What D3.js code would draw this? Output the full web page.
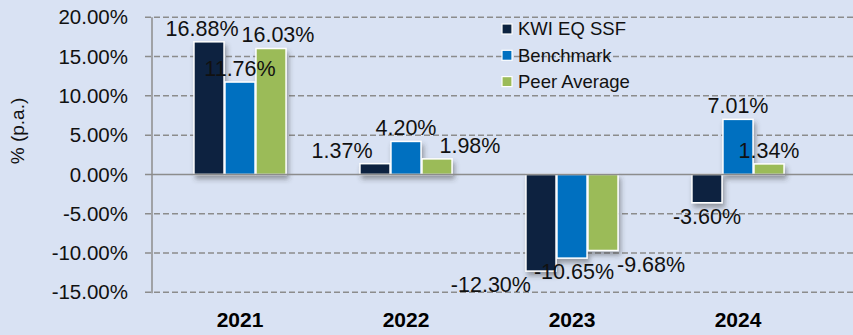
<!DOCTYPE html>
<html>
<head>
<meta charset="utf-8">
<script src="https://cdn.jsdelivr.net/npm/d3@7"></script>
<style>
  html, body { margin: 0; padding: 0; background: #D9E2F3; }
  svg { display: block; font-family: "Liberation Sans", Arial, sans-serif; }
</style>
</head>
<body>
<svg id="chart" width="853" height="335"></svg>
<script>
// Annual returns (% p.a.)
const years = ["2021", "2022", "2023", "2024"];
const seriesNames = ["KWI EQ SSF", "Benchmark", "Peer Average"];
const kwiEqSsf    = [16.88, 1.37, -12.30, -3.60];
const benchmark   = [11.76, 4.20, -10.65, 7.01];
const peerAverage = [16.03, 1.98, -9.68, 1.34];
const yTicks = [20, 15, 10, 5, 0, -5, -10, -15];

const seriesValues = [kwiEqSsf, benchmark, peerAverage];
const colors = ["#0C2340", "#0070C0", "#9BBB59"];

// percent format with a plain hyphen for negatives
const locale = d3.formatLocale({ decimal: ".", thousands: ",", grouping: [3], currency: ["", ""], minus: "-" });
const pct = v => locale.format(".2f")(v) + "%";

const svg = d3.select("#chart");
const W = 853, H = 335;
svg.append("rect").attr("width", W).attr("height", H).attr("fill", "#D9E2F3");

const axisX = 152;
const y = d3.scaleLinear().domain([-15, 20]).range([292.3, 17.3]);
const x0 = d3.scaleBand().domain(years).range([157, 821])
  .paddingInner(0.434).paddingOuter(0.217);
const x1 = d3.scaleBand().domain(seriesNames).range([0, x0.bandwidth()]).padding(0.03);

// soft shadow under the bars
const defs = svg.append("defs");
const f = defs.append("filter").attr("id", "shadow")
  .attr("x", "-30%").attr("y", "-30%").attr("width", "160%").attr("height", "160%");
f.append("feDropShadow").attr("dx", 2).attr("dy", 4).attr("stdDeviation", 2.5)
  .attr("flood-color", "#3a3a3a").attr("flood-opacity", 0.45);

// gridlines
const grid = svg.append("g");
grid.selectAll("line").data(yTicks.filter(d => d !== 0)).join("line")
  .attr("x1", axisX - 7).attr("x2", W)
  .attr("y1", d => y(d)).attr("y2", d => y(d))
  .attr("stroke", "#8C8C8C").attr("stroke-width", 1.5)
  .attr("stroke-dasharray", "6,3");

// y axis with tick labels
const yAxis = d3.axisLeft(y).tickValues(yTicks)
  .tickFormat(pct).tickSize(0).tickPadding(24);
const ya = svg.append("g").attr("transform", `translate(${axisX},0)`).call(yAxis);
ya.select(".domain").remove();
ya.selectAll("text").attr("font-size", 20.5).attr("fill", "#111")
  .attr("font-family", '"Liberation Sans", Arial, sans-serif');
svg.append("line").attr("x1", axisX).attr("x2", axisX)
  .attr("y1", y(20)).attr("y2", y(-15) + 1)
  .attr("stroke", "#8C8C8C").attr("stroke-width", 1.5);

// y axis title
svg.append("text")
  .attr("transform", "translate(24,131) rotate(-90)")
  .attr("text-anchor", "middle").attr("font-size", 19).attr("fill", "#111")
  .text("% (p.a.)");

// bars
const barData = [];
years.forEach((yr, i) => {
  seriesNames.forEach((s, j) => {
    barData.push({ year: yr, series: s, value: seriesValues[j][i], color: colors[j] });
  });
});

svg.append("g").attr("filter", "url(#shadow)")
  .selectAll("rect").data(barData).join("rect")
  .attr("x", d => x0(d.year) + x1(d.series))
  .attr("width", x1.bandwidth())
  .attr("y", d => y(Math.max(0, d.value)))
  .attr("height", d => Math.abs(y(d.value) - y(0)))
  .attr("fill", d => d.color)
  .attr("stroke", "#fff").attr("stroke-width", 1.5);

// zero line
svg.append("line").attr("x1", axisX - 7).attr("x2", W)
  .attr("y1", y(0)).attr("y2", y(0))
  .attr("stroke", "#8C8C8C").attr("stroke-width", 1.5);

// x category labels
const xa = svg.append("g").attr("transform", `translate(0,${y(-15)})`)
  .call(d3.axisBottom(x0).tickSize(0).tickPadding(20));
xa.select(".domain").remove();
xa.selectAll("text").attr("font-size", 21).attr("font-weight", "bold").attr("fill", "#000")
  .attr("font-family", '"Liberation Sans", Arial, sans-serif');

// data labels, nudged sideways where neighbours collide
const fs = 21.5;
const labelG = svg.append("g");
const labels = barData.map(d => {
  const cx = x0(d.year) + x1(d.series) + x1.bandwidth() / 2;
  const by = d.value >= 0 ? y(d.value) - 6 : y(d.value) + 21;
  const t = labelG.append("text").attr("font-size", fs).attr("fill", "#111")
    .attr("text-anchor", "middle").text(pct(d.value));
  return { node: t, year: d.year, x: cx, y: by, w: t.node().getComputedTextLength() };
});
years.forEach(yr => {
  const grp = labels.filter(l => l.year === yr);
  for (let it = 0; it < 80; it++) {
    for (let a = 0; a < grp.length; a++) {
      for (let b = a + 1; b < grp.length; b++) {
        const A = grp[a], B = grp[b];
        if (Math.abs(A.y - B.y) >= fs * 1.2) continue;
        const need = (A.w + B.w) / 2 + 3;
        const gap = B.x - A.x;
        if (gap < need) {
          const push = (need - gap) / 2;
          A.x -= push; B.x += push;
        }
      }
    }
  }
});
labels.forEach(l => l.node.attr("x", l.x).attr("y", l.y));

// legend
const lg = svg.append("g").attr("transform", "translate(502,29)");
seriesNames.forEach((s, j) => {
  const row = lg.append("g").attr("transform", `translate(0,${j * 26.3})`);
  row.append("rect").attr("x", 0).attr("y", -5).attr("width", 10).attr("height", 10)
    .attr("fill", colors[j]).attr("stroke", "#fff").attr("stroke-width", 1.2);
  row.append("text").attr("x", 16).attr("y", 0).attr("dy", "0.35em")
    .attr("font-size", 18.5).attr("fill", "#111").text(s);
});
</script>
</body>
</html>
